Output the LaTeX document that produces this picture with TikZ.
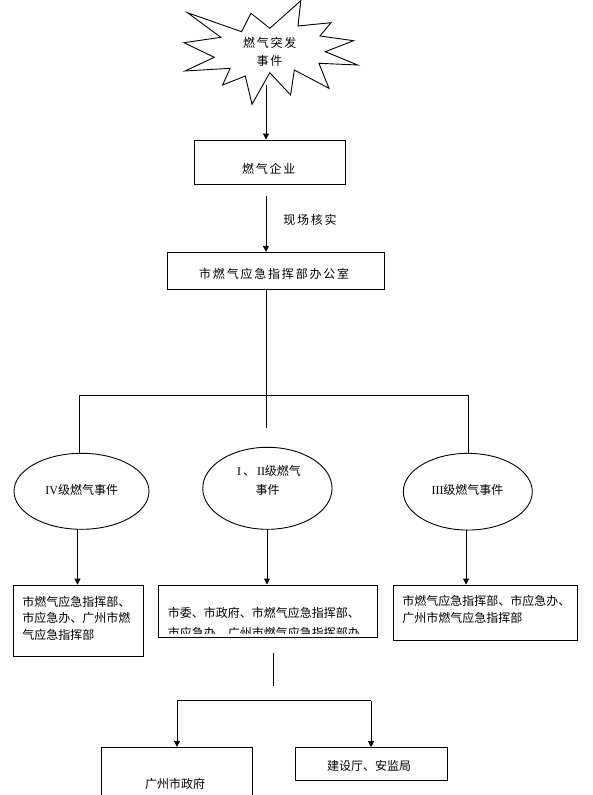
\documentclass[tikz,border=0pt]{standalone}
\usepackage{fontspec}
\setmainfont{Liberation Serif}
\newfontfamily\cjk{Noto Sans CJK SC}
\newfontfamily\cjkw[LetterSpace=15]{Noto Sans CJK SC}
\usetikzlibrary{arrows.meta,shapes.geometric}
\begin{document}
\begin{tikzpicture}[x=1pt,y=-1pt,
  line width=0.9pt,
  arr/.style={-{Triangle[width=6pt,length=6pt]}},
  box/.style={draw,line width=0.9pt,inner sep=0pt},
  ell/.style={draw,ellipse,line width=0.9pt,inner sep=0pt},
  txt/.style={font=\cjk\fontsize{12}{16}\selectfont,inner sep=0pt},
  wtxt/.style={font=\cjkw\fontsize{12}{16}\selectfont,inner sep=0pt}]
\clip (0,0) rectangle (593,795);
\fill[white] (0,0) rectangle (593,795);
% starburst
\draw (187.5,12.7) -- (241.5,31.7) -- (251,13.3) -- (269.8,28.3) -- (300.8,0.7) -- (298,26) -- (331,22.7) -- (320,36) -- (353.6,40.7) -- (325.3,51.7) -- (357.7,65) -- (318.9,63.3) -- (329,88.3) -- (294.3,70) -- (290.6,95) -- (269.8,72.7) -- (252,104.3) -- (245.3,76) -- (222.6,85) -- (230.2,68.3) -- (185,71) -- (214.3,57.3) -- (184,42.7) -- (220.8,37.3) -- cycle;
\node[wtxt] (burst) at (269.8,42.7) {燃气突发};
\node[wtxt] (burst2) at (269.5,61) {事件};
% boxes
\node[box,minimum width=151.4pt,minimum height=44.3pt] (qiye) at (270,162.2) {};
\node[wtxt] (qiyet) at (268.7,169) {燃气企业};
\node[wtxt] (hc) at (310,220) {现场核实};
\node[box,minimum width=217pt,minimum height=37pt] (zhb) at (275.8,270.8) {};
\node[wtxt] (zhbt) at (274.2,274) {市燃气应急指挥部办公室};
% ellipses
\node[ell,minimum width=135pt,minimum height=76pt] (e4) at (81.5,491.3) {};
\node[txt] (e4t) at (81.7,490) {{\rmfamily IV}级燃气事件};
\node[ell,minimum width=129.3pt,minimum height=82pt] (e12) at (267.4,488.3) {};
\node[txt] (e12t) at (269,471) {{\rmfamily I\,}、{\rmfamily\,II}级燃气};
\node[txt] (e12t2) at (267.5,490) {事件};
\node[ell,minimum width=129pt,minimum height=76.7pt] (e3) at (467.8,491.7) {};
\node[txt] (e3t) at (467.5,490) {{\rmfamily III}级燃气事件};
% level boxes
\node[box,minimum width=130.3pt,minimum height=71pt] (b4) at (78.2,620.5) {};
\node[txt,anchor=west] (b4a) at (22,601.7) {市燃气应急指挥部、};
\node[txt,anchor=west] (b4b) at (22,618.3) {市应急办、广州市燃};
\node[txt,anchor=west] (b4c) at (22,635) {气应急指挥部};
\node[box,minimum width=218.7pt,minimum height=52.7pt] (b12) at (267.7,611.3) {};
\begin{scope}
\clip (158.3,585) rectangle (377,633.6);
\node[txt,anchor=west] (b12a) at (167.3,613.3) {市委、市政府、市燃气应急指挥部、};
\node[txt,anchor=west] (b12b) at (167.3,632.6) {市应急办、广州市燃气应急指挥部办};
\end{scope}
\node[box,minimum width=184pt,minimum height=55pt] (b3) at (485,612.5) {};
\node[txt,anchor=west] (b3a) at (402,600.7) {市燃气应急指挥部、市应急办、};
\node[txt,anchor=west] (b3b) at (402,618.3) {广州市燃气应急指挥部};
% bottom boxes
\node[box,minimum width=150.6pt,minimum height=62.7pt] (gz) at (177,778.6) {};
\node[txt] (gzt) at (175,784) {广州市政府};
\node[box,minimum width=152pt,minimum height=32.3pt] (jz) at (371.7,763.8) {};
\node[txt] (jzt) at (369,766) {建设厅、安监局};
% connectors
\coordinate (b0) at (266,85);
\draw[arr] (b0) -- (b0 |- qiye.north);
\coordinate (c1) at (266,196);
\draw[arr] (c1) -- (c1 |- zhb.north);
\coordinate (c2) at (266,428);
\draw (zhb.south -| c2) -- (c2);
\coordinate (hl) at (79,395);
\coordinate (hr) at (468,395);
\draw (hl) -- (hr);
\draw (hl) -- (hl |- e4.north);
\draw (hr) -- (hr |- e3.north);
\coordinate (v4) at (77.5,529.3);
\draw[arr] (v4) -- (v4 |- b4.north);
\coordinate (v12) at (267,529.3);
\draw[arr] (v12) -- (v12 |- b12.north);
\coordinate (v3) at (466,530);
\draw[arr] (v3) -- (v3 |- b3.north);
\coordinate (d0) at (273,653);
\coordinate (d1) at (273,686);
\draw (d0) -- (d1);
\coordinate (gl) at (177,700.7);
\coordinate (gr) at (371,700.7);
\draw (gl) -- (gr);
\draw[arr] (gl) -- (gl |- gz.north);
\draw[arr] (gr) -- (gr |- jz.north);
\end{tikzpicture}
\end{document}
